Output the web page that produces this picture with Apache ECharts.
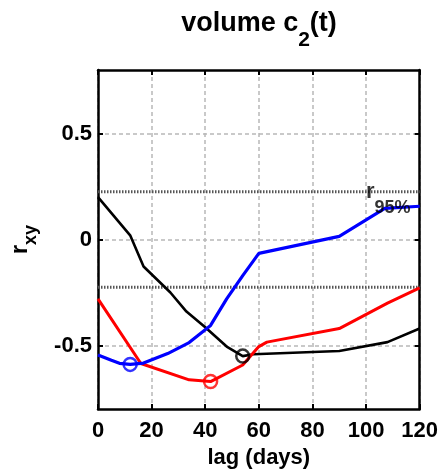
<!DOCTYPE html>
<html><head><meta charset="utf-8">
<script src="https://cdn.jsdelivr.net/npm/echarts@6/dist/echarts.min.js"></script>
<style>html,body{margin:0;padding:0;background:#fff}#c{width:441px;height:474px}</style>
</head><body><div id="c"></div>
<script>
// ---- data ----
const blueLag = [0, 5, 8, 12, 17, 26, 34, 42, 48, 54, 60, 90, 107, 120];
const blueR   = [-0.545, -0.57, -0.584, -0.589, -0.583, -0.538, -0.486, -0.405, -0.28, -0.17, -0.065, 0.015, 0.147, 0.157];
const redLag  = [0, 16, 34, 42, 54, 60, 63, 90, 108, 120];
const redR    = [-0.28, -0.585, -0.662, -0.67, -0.592, -0.505, -0.484, -0.42, -0.30, -0.228];
const blackLag = [0, 12, 17, 27, 33, 40, 48, 54, 58, 90, 108, 120];
const blackR   = [0.20, 0.02, -0.127, -0.25, -0.34, -0.414, -0.505, -0.55, -0.541, -0.526, -0.484, -0.42];
const blueMin  = [12, -0.589];
const redMin   = [42, -0.67];
const blackMin = [54, -0.55];
const r95 = 0.225;
const r95LabelAt = [100, 0.225];
const xTicks = [0, 20, 40, 60, 80, 100, 120];
const yTicks = [-0.5, 0, 0.5];

const pair = (xs, ys) => xs.map((x, i) => [x, ys[i]]);
const FONT = "'Liberation Sans', Arial, Helvetica, sans-serif";

const chart = echarts.init(document.getElementById('c'), null, {renderer: 'canvas'});
const gridDash = {color: '#b8b8b8', width: 1.5, type: [4, 3]};
const tick = {show: true, inside: true, length: 5, lineStyle: {color: '#000', width: 2}};
const axisLine = {show: true, onZero: false, lineStyle: {color: '#000', width: 2.5}};

chart.setOption({
  animation: false,
  backgroundColor: '#fff',
  grid: {left: 98, right: 21, top: 70, bottom: 63},
  graphic: [{
    type: 'text', x: 259, y: 10,
    style: {
      text: '{a|volume c}{s|2}{a|(t)}',
      align: 'center',
      rich: {
        a: {fontFamily: FONT, fontWeight: 'bold', fontSize: 27, lineHeight: 41, verticalAlign: 'top', fill: '#000'},
        s: {fontFamily: FONT, fontWeight: 'bold', fontSize: 21, lineHeight: 41, verticalAlign: 'bottom', fill: '#000'}
      }
    }
  }],
  xAxis: [{
    type: 'value', min: 0, max: 120, interval: 20, position: 'bottom',
    axisLine: axisLine, axisTick: tick,
    axisLabel: {fontFamily: FONT, fontWeight: 'bold', fontSize: 22, color: '#000', margin: 11, customValues: xTicks},
    splitLine: {show: true, lineStyle: gridDash},
    name: 'lag (days)', nameLocation: 'middle', nameGap: 35,
    nameTextStyle: {fontFamily: FONT, fontWeight: 'bold', fontSize: 22, color: '#000'}
  }, {
    type: 'value', min: 0, max: 120, interval: 20, position: 'top',
    axisLine: axisLine, axisTick: tick, axisLabel: {show: false}, splitLine: {show: false}
  }],
  yAxis: [{
    type: 'value', min: -0.8, max: 0.8, position: 'left',
    axisLine: axisLine,
    axisTick: Object.assign({customValues: yTicks}, tick),
    axisLabel: {fontFamily: FONT, fontWeight: 'bold', fontSize: 22, color: '#000', margin: 6, customValues: yTicks,
      formatter: v => (v === 0 ? '0' : String(v))},
    splitLine: {show: true, lineStyle: gridDash},
    name: '{r|r}{s|xy}', nameLocation: 'middle', nameGap: 58, nameRotate: 90,
    nameTextStyle: {
      rich: {
        r: {fontFamily: FONT, fontWeight: 'bold', fontSize: 24, lineHeight: 32, verticalAlign: 'top', color: '#000'},
        s: {fontFamily: FONT, fontWeight: 'bold', fontSize: 18, lineHeight: 32, verticalAlign: 'bottom', color: '#000'}
      }
    }
  }, {
    type: 'value', min: -0.8, max: 0.8, position: 'right',
    axisLine: axisLine,
    axisTick: Object.assign({customValues: yTicks}, tick),
    axisLabel: {show: false, customValues: yTicks}, splitLine: {show: false}
  }],
  series: [
    {type: 'line', data: [[0, r95], [120, r95]], symbol: 'none', silent: true, z: 1,
      lineStyle: {color: '#555', width: 3, type: [1.5, 1.5]}},
    {type: 'line', data: [[0, -r95], [120, -r95]], symbol: 'none', silent: true, z: 1,
      lineStyle: {color: '#555', width: 3, type: [1.5, 1.5]}},
    {type: 'line', data: pair(blackLag, blackR), symbol: 'none', z: 3,
      lineStyle: {color: '#000', width: 2.6}},
    {type: 'line', data: pair(redLag, redR), symbol: 'none', z: 3,
      lineStyle: {color: '#ff0000', width: 3}},
    {type: 'line', data: pair(blueLag, blueR), symbol: 'none', z: 3,
      lineStyle: {color: '#0000ff', width: 3.2}},
    {type: 'scatter', data: [blueMin], symbol: 'circle', symbolSize: 13, z: 4,
      itemStyle: {color: 'rgba(0,0,0,0)', borderColor: '#0000ff', borderWidth: 2.5}},
    {type: 'scatter', data: [redMin], symbol: 'circle', symbolSize: 13, z: 4,
      itemStyle: {color: 'rgba(0,0,0,0)', borderColor: '#ff0000', borderWidth: 2.5}},
    {type: 'scatter', data: [blackMin], symbol: 'circle', symbolSize: 13, z: 4,
      itemStyle: {color: 'rgba(0,0,0,0)', borderColor: '#000', borderWidth: 2.5}},
    {type: 'scatter', data: [r95LabelAt], symbolSize: 0, z: 5, silent: true,
      label: {show: true, position: [0, 7], align: 'left', verticalAlign: 'middle',
        formatter: '{r|r}{s|95%}',
        rich: {
          r: {fontFamily: FONT, fontWeight: 'bold', fontSize: 22, lineHeight: 36, verticalAlign: 'top', color: '#000'},
          s: {fontFamily: FONT, fontWeight: 'bold', fontSize: 18, lineHeight: 36, verticalAlign: 'bottom', color: '#000'}
        }}}
  ]
});
</script></body></html>
